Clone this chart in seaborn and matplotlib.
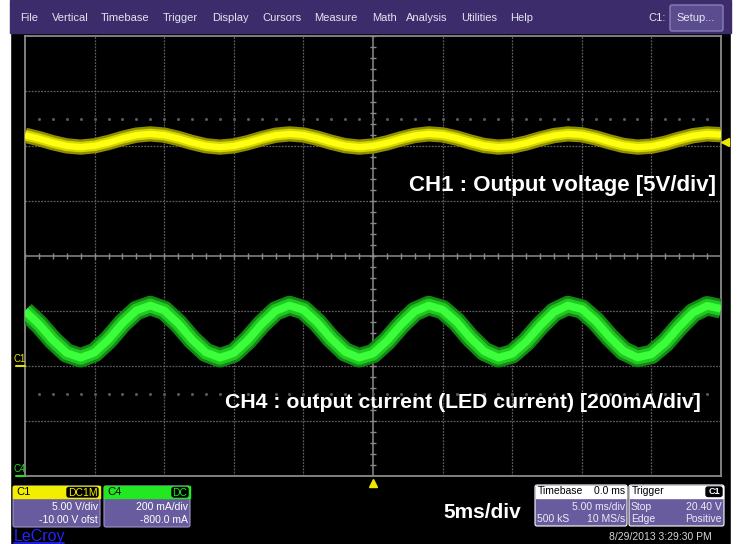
import seaborn as sns
import matplotlib.pyplot as plt
from matplotlib.patches import Rectangle, FancyBboxPatch

W, H = 739, 544   # screenshot size in pixels

# sample times across the 10 divisions (ms, trigger at 0)
time_ms = [-25, -24, -23, -22, -21, -20, -19, -18, -17, -16, -15, -14, -13,
           -12, -11, -10, -9, -8, -7, -6, -5, -4, -3, -2, -1, 0, 1, 2, 3,
           4, 5, 6, 7, 8, 9, 10, 11, 12, 13, 14, 15, 16, 17, 18, 19, 20,
           21, 22, 23, 24, 25]

# CH1 output voltage (V)
ch1_volts = [20.98, 20.67, 20.30, 20.01, 19.90, 20.02, 20.32, 20.69, 20.99,
             21.10, 20.99, 20.69, 20.32, 20.02, 19.90, 20.01, 20.30, 20.67,
             20.98, 21.10, 21.00, 20.71, 20.34, 20.03, 19.90, 20.00, 20.28,
             20.65, 20.96, 21.10, 21.01, 20.73, 20.36, 20.04, 19.90, 19.99,
             20.27, 20.64, 20.95, 21.10, 21.02, 20.74, 20.37, 20.05, 19.90,
             19.98, 20.25, 20.62, 20.94, 21.10, 21.03]

# CH4 LED current (mA)
ch4_milliamps = [600, 552, 494, 447, 430, 449, 496, 555, 602, 620, 602, 555,
                 496, 449, 430, 447, 494, 552, 600, 620, 604, 558, 499, 451,
                 430, 445, 491, 549, 598, 620, 605, 561, 502, 453, 430, 444,
                 488, 546, 596, 620, 607, 563, 505, 455, 431, 442, 485, 543,
                 594, 619, 608]

ch1_scale, ch1_offset = 5.0, -10.0        # V/div, V
ch4_scale, ch4_offset = 200.0, -800.0     # mA/div, mA
timebase = 5.0                            # ms/div
trigger_level = 20.40                     # V
trigger_time = 0.0                        # ms

menu_items = ["File", "Vertical", "Timebase", "Trigger", "Display", "Cursors",
              "Measure", "Math", "Analysis", "Utilities", "Help"]
menu_x = [20, 52, 101, 163, 212, 262, 314, 372, 406, 461, 510]

sns.set_style("dark")
plt.rcParams['font.family'] = ['Liberation Sans', 'DejaVu Sans']

fig = plt.figure(figsize=(W / 100, H / 100), dpi=100)
fig.patch.set_facecolor("black")

# graticule: 10 x 8 divisions
ax = fig.add_axes([25 / W, 68 / H, 696 / W, 440 / H])
ax.set_facecolor("black")
ax.set_xlim(-5 * timebase, 5 * timebase)
ax.set_ylim(-4, 4)
ax.set_xticks([])
ax.set_yticks([])
for s in ax.spines.values():
    s.set_color("#8a8a8a")
    s.set_linewidth(1.3)

grid_kw = dict(color="#5c5c5c", lw=0.9, ls=(0, (1.5, 1.0)), zorder=1)
for i in range(-4, 5):
    if i != 0:
        ax.axvline(i * timebase, **grid_kw)
for j in range(-3, 4):
    if j != 0:
        ax.axhline(j, **grid_kw)
ax.axhline(0, color="#8a8a8a", lw=1.1, zorder=1)
ax.axvline(0, color="#8a8a8a", lw=1.1, zorder=1)
minor_t = [k * timebase / 5 for k in range(-25, 26)]
ax.vlines(minor_t, -0.055, 0.055, color="#8a8a8a", lw=1.0, zorder=1)
minor_d = [k / 5 for k in range(-20, 21)]
ax.hlines(minor_d, -0.2, 0.2, color="#8a8a8a", lw=1.0, zorder=1)
for yy in (2.5, -2.5):
    ax.plot(minor_t[1:-1], [yy] * (len(minor_t) - 2), ls="none", marker="s",
            ms=1.0, color="#5e5e5e", zorder=1)

# one axis per channel with its own volts/div and offset
ax_v = ax.twinx()
ax_i = ax.twinx()
for a in (ax_v, ax_i):
    a.axis("off")

sns.lineplot(x=time_ms, y=ch1_volts, ax=ax_v, color="#8f8f00", lw=11,
             solid_capstyle="butt")
sns.lineplot(x=time_ms, y=ch1_volts, ax=ax_v, color="#d6d600", lw=7.5,
             solid_capstyle="butt")
sns.lineplot(x=time_ms, y=ch1_volts, ax=ax_v, color="#ffff10", lw=4.5,
             solid_capstyle="butt")
sns.lineplot(x=time_ms, y=ch4_milliamps, ax=ax_i, color="#108a10", lw=14,
             solid_capstyle="butt")
sns.lineplot(x=time_ms, y=ch4_milliamps, ax=ax_i, color="#22c822", lw=10,
             solid_capstyle="butt")
sns.lineplot(x=time_ms, y=ch4_milliamps, ax=ax_i, color="#3cff3c", lw=5.5,
             solid_capstyle="butt")
ax_v.set_ylim(-ch1_offset - 4 * ch1_scale, -ch1_offset + 4 * ch1_scale)
ax_i.set_ylim(-ch4_offset - 4 * ch4_scale, -ch4_offset + 4 * ch4_scale)
ax_v.set_xlim(-5 * timebase, 5 * timebase)

# ground markers, trigger level and trigger position
ax_v.plot([-25.65, -25.0], [0, 0], color="#e8e000", lw=1.5, clip_on=False)
ax_v.text(-25.85, 0.2, "C1", color="#e8e000", fontsize=7, va="bottom",
          ha="left", clip_on=False)
ax_i.plot([-25.65, -25.0], [0, 0], color="#22dd22", lw=1.5, clip_on=False)
ax_i.text(-25.85, 8, "C4", color="#22dd22", fontsize=7, va="bottom",
          ha="left", clip_on=False)
ax_v.plot([25.3], [trigger_level], marker="<", ms=6, color="#f0e800",
          clip_on=False)
ax.plot([trigger_time], [-4.13], marker="^", ms=6, color="#f0e800",
        clip_on=False)

# screen furniture in pixel coordinates
ov = fig.add_axes([0, 0, 1, 1])
ov.set_xlim(0, W)
ov.set_ylim(H, 0)
ov.axis("off")
ov.patch.set_alpha(0)

ov.add_patch(Rectangle((0, 0), 10, H, color="white"))
ov.add_patch(Rectangle((731, 0), 8, H, color="white"))
ov.add_patch(Rectangle((10, 0), 721, 33, color="#3d2c6b"))
for name, x in zip(menu_items, menu_x):
    ov.text(x, 18, name, color="#e4e4ee", fontsize=8, va="center", ha="left")
ov.text(648, 18, "C1:", color="#e4e4ee", fontsize=8, va="center")
ov.add_patch(FancyBboxPatch((670, 5), 53, 26,
                            boxstyle="round,pad=0,rounding_size=2",
                            fc="#5b4c90", ec="#8a80b8", lw=1))
ov.text(696, 18, "Setup...", color="#e8e8f2", fontsize=8, va="center",
        ha="center")

ov.text(716, 186, "CH1 : Output voltage [5V/div]", color="white",
        fontsize=16, fontweight="bold", ha="right", va="center")
ov.text(701, 402, "CH4 : output current (LED current) [200mA/div]",
        color="white", fontsize=15.3, fontweight="bold", ha="right",
        va="center")
ov.text(482, 512, "5ms/div", color="white", fontsize=15, fontweight="bold",
        ha="center", va="center")

box_fc = "#695c9e"


def channel_box(x, w, head_color, name, coupling, cw, line1, line2):
    ov.add_patch(FancyBboxPatch((x, 486), w, 41,
                                boxstyle="round,pad=0,rounding_size=2",
                                fc=box_fc, ec="#9d94c8", lw=0.8))
    ov.add_patch(Rectangle((x, 486), w, 12, color=head_color))
    ov.text(x + 3, 492, name, color="black", fontsize=8, va="center")
    ov.add_patch(FancyBboxPatch((x + w - cw - 2, 487.5), cw, 9.5,
                                boxstyle="round,pad=0,rounding_size=2",
                                fc="black", ec="black"))
    ov.text(x + w - 2 - cw / 2, 492.5, coupling, color=head_color,
            fontsize=7.5, va="center", ha="center")
    ov.text(x + w - 2, 507, line1, color="white", fontsize=7.5, va="center",
            ha="right")
    ov.text(x + w - 2, 520, line2, color="white", fontsize=7.5, va="center",
            ha="right")


channel_box(13, 87, "#f2ee00", "C1", "DC1M", 31,
            "%.2f V/div" % ch1_scale, "%.2f V ofst" % ch1_offset)
channel_box(104, 86, "#22e822", "C4", "DC", 16,
            "%.0f mA/div" % ch4_scale, "%.1f mA" % ch4_offset)


def info_box(x, w, head_l, head_r, rows, badge=None):
    ov.add_patch(FancyBboxPatch((x, 485), w, 41,
                                boxstyle="round,pad=0,rounding_size=2",
                                fc=box_fc, ec="white", lw=0.8))
    ov.add_patch(Rectangle((x + 1, 486), w - 2, 12, color="white"))
    ov.text(x + 3, 491.5, head_l, color="black", fontsize=7.5, va="center")
    if badge:
        ov.add_patch(FancyBboxPatch((x + w - 18, 487), 16, 9.5,
                                    boxstyle="round,pad=0,rounding_size=2",
                                    fc="black", ec="black"))
        ov.text(x + w - 10, 492, badge, color="white", fontsize=6.5,
                va="center", ha="center", fontweight="bold")
    else:
        ov.text(x + w - 2, 491.5, head_r, color="black", fontsize=7.5,
                va="center", ha="right")
    for yy, (left, right) in zip((507, 519.5), rows):
        ov.text(x + 2, yy, left, color="#ecebf5", fontsize=7.5, va="center")
        ov.text(x + w - 2, yy, right, color="#ecebf5", fontsize=7.5,
                va="center", ha="right")


info_box(535, 92, "Timebase", "%.1f ms" % trigger_time,
         [("", "%.2f ms/div" % timebase), ("500 kS", "10 MS/s")])
info_box(629, 95, "Trigger", "", [("Stop", "%.2f V" % trigger_level),
                                  ("Edge", "Positive")], badge="C1")

ov.text(712, 537, "8/29/2013 3:29:30 PM", color="#d6d6d6", fontsize=7.5,
        va="center", ha="right")
ov.text(14, 536, "LeCroy", color="#2424ff", fontsize=11.5, va="center")
ov.plot([14, 64], [543, 543], color="#2424ff", lw=1.2)

plt.savefig("out.png", dpi=100, facecolor=fig.get_facecolor())
